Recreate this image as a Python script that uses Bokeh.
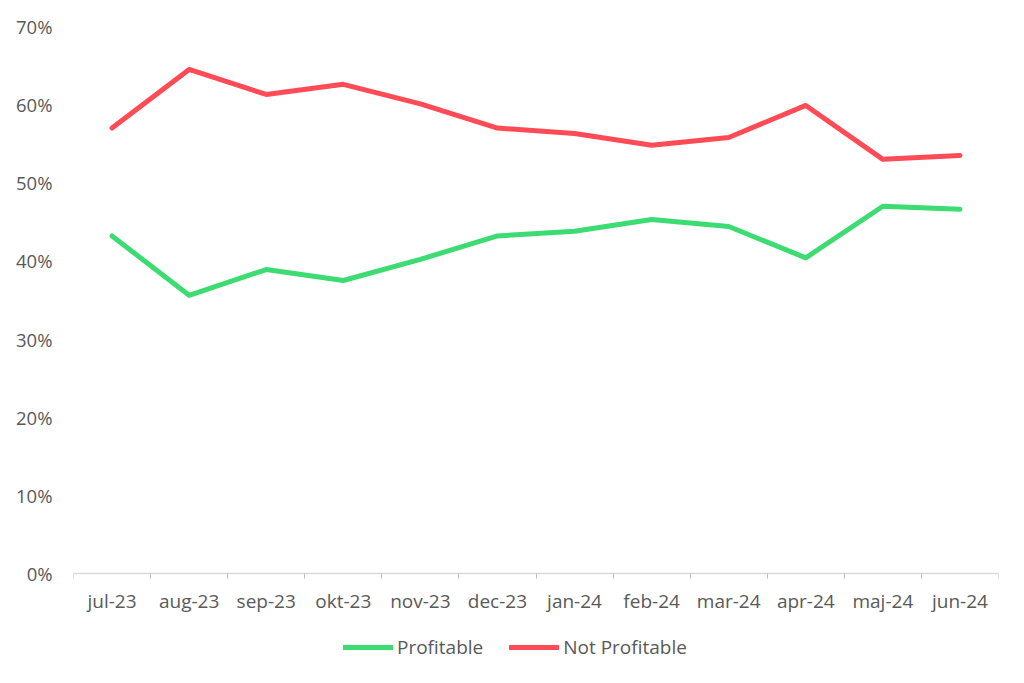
from bokeh.plotting import figure
from bokeh.models import FixedTicker, PrintfTickFormatter, Legend, LegendItem, Range1d
from bokeh.embed import file_html
from bokeh.resources import INLINE

months = ["jul-23", "aug-23", "sep-23", "okt-23", "nov-23", "dec-23",
          "jan-24", "feb-24", "mar-24", "apr-24", "maj-24", "jun-24"]
profitable = [43.2, 35.6, 38.9, 37.5, 40.2, 43.2, 43.8, 45.3, 44.4, 40.4, 47.0, 46.6]
not_profitable = [57.0, 64.5, 61.3, 62.6, 60.1, 57.0, 56.3, 54.8, 55.8, 59.9, 53.0, 53.5]
y_ticks = [0, 10, 20, 30, 40, 50, 60, 70]

GREEN = "#3CDC73"
RED = "#FF4B55"
TEXT = "#595959"
FONT = "Open Sans"

xs = [i + 0.5 for i in range(len(months))]

# frame extends below 0% so that the legend can sit inside it, under the x axis
p = figure(frame_width=925, frame_height=644, output_backend="svg", toolbar_location=None,
           x_range=Range1d(0, len(months)), y_range=Range1d(-12.41, 70),
           min_border_left=73, min_border_right=18, min_border_top=26, min_border_bottom=0)
p.outline_line_color = None
p.xgrid.visible = False
p.ygrid.visible = False
p.background_fill_color = "white"

g = p.line(xs, profitable, line_color=GREEN, line_width=5, line_join="round", line_cap="round")
r = p.line(xs, not_profitable, line_color=RED, line_width=5, line_join="round", line_cap="round")

# x axis, drawn at 0%
xa = p.xaxis[0]
xa.fixed_location = 0
xa.ticker = FixedTicker(ticks=xs, minor_ticks=list(range(len(months) + 1)))
xa.major_label_overrides = {x: m for x, m in zip(xs, months)}
xa.major_tick_line_color = None
xa.major_tick_out = 0
xa.major_tick_in = 0
xa.minor_tick_line_color = "#BFBFBF"
xa.minor_tick_out = 5
xa.minor_tick_in = 0
xa.axis_line_color = "#D9D9D9"
xa.axis_line_width = 1.5
xa.major_label_text_font = FONT
xa.major_label_text_font_size = "19px"
xa.major_label_text_color = TEXT
xa.major_label_standoff = 9

# y axis
ya = p.yaxis[0]
ya.ticker = FixedTicker(ticks=y_ticks)
ya.formatter = PrintfTickFormatter(format="%d%%")
ya.axis_line_color = None
ya.major_tick_line_color = None
ya.minor_tick_line_color = None
ya.major_label_text_font = FONT
ya.major_label_text_font_size = "18.5px"
ya.major_label_text_color = TEXT
ya.major_label_standoff = 15

legend = Legend(items=[LegendItem(label="Profitable", renderers=[g]),
                       LegendItem(label="Not Profitable", renderers=[r])],
                orientation="horizontal", location=(270, 10),
                glyph_width=50, glyph_height=20, label_standoff=4, spacing=26,
                padding=0, margin=0, border_line_color=None, background_fill_alpha=0,
                label_text_font=FONT, label_text_font_size="19px", label_text_color=TEXT)
p.add_layout(legend, "center")

open("out.html", "w").write(file_html(p, INLINE))
